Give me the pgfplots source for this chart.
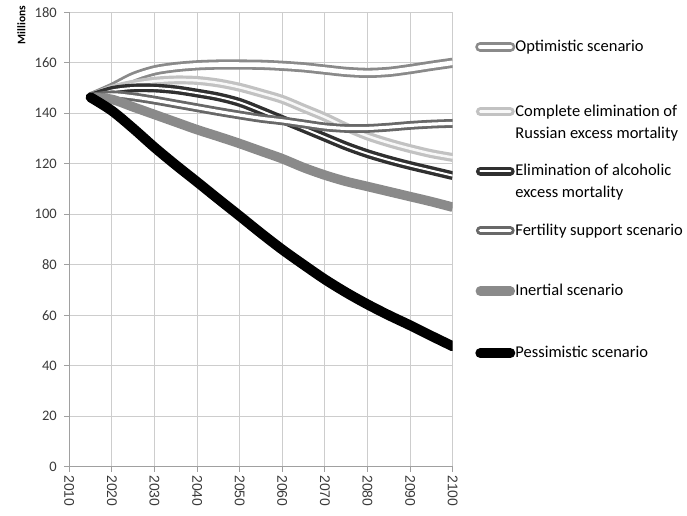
\documentclass[border=0pt]{standalone}
\usepackage{fontspec}
\setmainfont{Carlito}
\newfontfamily\arialf{Liberation Sans}
\usepackage{pgfplots}
\pgfplotsset{compat=1.18}
\definecolor{optc}{HTML}{8A8A8A}
\definecolor{compc}{HTML}{C2C2C2}
\definecolor{alcc}{HTML}{303030}
\definecolor{fertc}{HTML}{686868}
\definecolor{inerc}{HTML}{8A8A8A}
\definecolor{gridc}{HTML}{CDCDCD}
\definecolor{axc}{HTML}{A0A0A0}
\definecolor{txtc}{HTML}{3A3A3A}
\begin{document}
\begin{tikzpicture}
\useasboundingbox (0,0) rectangle (687pt,515pt);
\begin{axis}[
  at={(69.3pt,48.3pt)}, anchor=south west,
  scale only axis, width=383.4pt, height=454.4pt,
  xmin=2010, xmax=2100, ymin=0, ymax=180,
  xtick={2010,2020,...,2100}, ytick={0,20,...,180},
  axis lines*=left,
  axis line style={-, axc, line width=1.1pt},
  grid=major, major grid style={gridc, line width=1.1pt},
  tick align=outside, major tick length=5pt,
  tick style={axc, line width=1pt},
  /pgf/number format/assume math mode=true,
  x tick label style={/pgf/number format/1000 sep={}, rotate=-90, anchor=west, font=\arialf\fontsize{14}{16}\selectfont, text=txtc},
  y tick label style={font=\fontsize{14.5}{16}\selectfont, text=txtc, xshift=-4pt},
  ylabel={Millions},
  ylabel style={at={(axis description cs:-0.125,0.972)}, anchor=center, rotate=0, font=\fontsize{11.5}{13}\selectfont\bfseries},
  legend cell align=left,
  legend image code/.code={\draw[#1, line cap=round] (0pt,4.5pt) -- (30pt,4.5pt);},
  legend style={draw=none, fill=none, inner sep=0pt, row sep=0pt, column sep=0pt,
    cells={anchor=base west},
    nodes={inner sep=0pt, font=\fontsize{16.5}{22}\selectfont},
    at={(axis description cs:1.0582,0.9584)}, anchor=north west},
]
% Optimistic
\addplot[optc, line width=2.8pt, double=white, double distance=4.6pt, smooth] coordinates {
(2015,146.3) (2020,150) (2025,154.3) (2030,157) (2035,158.3) (2040,159) (2045,159.3) (2050,159.3) (2055,159.2) (2060,158.8) (2065,158.2) (2070,157.3) (2075,156.4) (2080,156) (2085,156.4) (2090,157.5) (2095,158.8) (2100,160)};
\addlegendentry{\rule{0pt}{20pt}Optimistic scenario}
% Complete elimination
\addplot[compc, line width=3.2pt, double=white!88!compc, double distance=2.5pt, smooth] coordinates {
(2015,146.3) (2020,149.5) (2025,151.5) (2030,152.7) (2035,153.2) (2040,153) (2045,152) (2050,150.3) (2055,148) (2060,145.5) (2065,142) (2070,138.5) (2075,134.5) (2080,131) (2085,128.3) (2090,126) (2095,124) (2100,122.5)};
\addlegendentry{\rule{0pt}{63.3pt}\begin{tabular}[t]{@{}l@{}}Complete elimination of\\Russian excess mortality\end{tabular}}
% Alcoholic
\addplot[alcc, line width=3.4pt, double=white, double distance=2pt, smooth] coordinates {
(2015,146.3) (2020,149) (2025,150) (2030,150) (2035,149.3) (2040,148) (2045,146.5) (2050,144.3) (2055,141) (2060,137.5) (2065,134) (2070,130.5) (2075,127) (2080,124) (2085,121.5) (2090,119.3) (2095,117.3) (2100,115.3)};
\addlegendentry{\rule{0pt}{58pt}\begin{tabular}[t]{@{}l@{}}Elimination of alcoholic\\excess mortality\end{tabular}}
% Fertility support
\addplot[fertc, line width=2.8pt, double=white, double distance=3.2pt, smooth] coordinates {
(2015,146.3) (2020,147.3) (2025,146.5) (2030,145.2) (2035,143.7) (2040,142.2) (2045,140.7) (2050,139.3) (2055,138) (2060,137) (2065,135.8) (2070,134.6) (2075,134) (2080,134) (2085,134.5) (2090,135.2) (2095,135.7) (2100,136)};
\addlegendentry{\rule{0pt}{58pt}Fertility support scenario}
% Inertial
\addplot[inerc, line width=9.5pt, smooth] coordinates {
(2015,146.3) (2020,145.5) (2025,142.5) (2030,139.5) (2035,136.5) (2040,133.5) (2045,130.8) (2050,128) (2055,125) (2060,122) (2065,118.5) (2070,115.5) (2075,113) (2080,111) (2085,109) (2090,107) (2095,105) (2100,102.8)};
\addlegendentry{\rule{0pt}{59pt}Inertial scenario}
% Pessimistic
\addplot[black, line width=10pt, line cap=round, smooth] coordinates {
(2015,146.3) (2020,141) (2025,134) (2030,126.5) (2035,119.5) (2040,112.8) (2045,106) (2050,99.3) (2055,92.5) (2060,86) (2065,80) (2070,74.2) (2075,69) (2080,64.3) (2085,60) (2090,56) (2095,51.8) (2100,47.7)};
\addlegendentry{\rule{0pt}{60.4pt}Pessimistic scenario}
\end{axis}
\end{tikzpicture}
\end{document}
